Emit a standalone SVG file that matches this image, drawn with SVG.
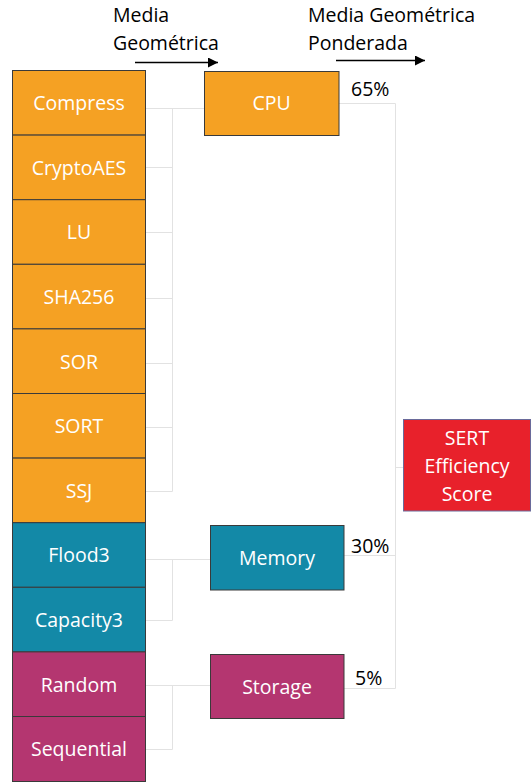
<svg xmlns="http://www.w3.org/2000/svg" width="531" height="782" viewBox="0 0 531 782">
  <style>
    text { font-family: "Open Sans", "Noto Sans", "DejaVu Sans", sans-serif; font-size: 19.5px; }
    .lbl { fill: #ffffff; text-anchor: middle; }
    .hdr { fill: #000000; }
    .box { stroke: #3a3a3a; stroke-width: 1; }
    .cpu { fill: #F5A123; }
    .mem { fill: #1389A7; }
    .sto { fill: #B43670; }
    .sert { fill: #E8212B; stroke: #6a6a9a; stroke-width: 1; }
    .wire { fill: none; stroke: #e2e2e2; stroke-width: 1; }
    .arrow { fill: none; stroke: #000000; stroke-width: 1.3; marker-end: url(#head); }
  </style>
  <defs>
    <marker id="head" viewBox="0 0 10 10" refX="10" refY="5" markerWidth="16" markerHeight="10" markerUnits="userSpaceOnUse" orient="auto">
      <path d="M0,0 L10,5 L0,10 Z" fill="#000000"/>
    </marker>
  </defs>

  <rect width="531" height="782" fill="#ffffff"/>

  <!-- column headers -->
  <g id="headers">
    <text class="hdr" x="113" y="22">Media</text>
    <text class="hdr" x="113" y="50">Geométrica</text>
    <path class="arrow" d="M135,62.5 H218"/>
    <text class="hdr" x="308" y="22">Media Geométrica</text>
    <text class="hdr" x="308" y="50">Ponderada</text>
    <path class="arrow" d="M336,60.5 H425"/>
  </g>

  <!-- connectors -->
  <g id="connectors">
    <path class="wire" d="M146,108.5 H204 M172.5,108.5 V491.5 M146,167.5 H172.5 M146,232.5 H172.5 M146,298.5 H172.5 M146,363.5 H172.5 M146,427.5 H172.5 M146,491.5 H172.5"/>
    <path class="wire" d="M146,559.5 H210 M172.5,559.5 V620.5 H146"/>
    <path class="wire" d="M146,685.5 H210 M172.5,685.5 V749.5 H146"/>
    <path class="wire" d="M339,103.5 H395.5 V688.5 M344,555.5 H395.5 M344,688.5 H395.5 M395.5,467.5 H403"/>
  </g>

  <!-- benchmark workloads -->
  <g id="compress"><rect class="box cpu" x="12.5" y="70.5" width="133" height="64.6"/><text class="lbl" x="79" y="110">Compress</text></g>
  <g id="cryptoaes"><rect class="box cpu" x="12.5" y="135.1" width="133" height="64.6"/><text class="lbl" x="79" y="174.5">CryptoAES</text></g>
  <g id="lu"><rect class="box cpu" x="12.5" y="199.7" width="133" height="64.6"/><text class="lbl" x="79" y="239">LU</text></g>
  <g id="sha256"><rect class="box cpu" x="12.5" y="264.3" width="133" height="64.6"/><text class="lbl" x="79" y="304">SHA256</text></g>
  <g id="sor"><rect class="box cpu" x="12.5" y="328.9" width="133" height="64.6"/><text class="lbl" x="79" y="368.5">SOR</text></g>
  <g id="sort"><rect class="box cpu" x="12.5" y="393.5" width="133" height="64.6"/><text class="lbl" x="79" y="433">SORT</text></g>
  <g id="ssj"><rect class="box cpu" x="12.5" y="458.1" width="133" height="64.6"/><text class="lbl" x="79" y="497.5">SSJ</text></g>
  <g id="flood3"><rect class="box mem" x="12.5" y="522.7" width="133" height="64.6"/><text class="lbl" x="79" y="562">Flood3</text></g>
  <g id="capacity3"><rect class="box mem" x="12.5" y="587.3" width="133" height="64.6"/><text class="lbl" x="79" y="627">Capacity3</text></g>
  <g id="random"><rect class="box sto" x="12.5" y="651.9" width="133" height="64.6"/><text class="lbl" x="79" y="691.5">Random</text></g>
  <g id="sequential"><rect class="box sto" x="12.5" y="716.5" width="133" height="65"/><text class="lbl" x="79" y="756">Sequential</text></g>

  <!-- category groups -->
  <g id="cpu"><rect class="box cpu" x="204.5" y="71.5" width="134.5" height="64"/><text class="lbl" x="271.5" y="110">CPU</text>
    <text class="hdr" x="351" y="96">65%</text></g>
  <g id="memory"><rect class="box mem" x="210.5" y="525.5" width="133.5" height="64.5"/><text class="lbl" x="277" y="565">Memory</text>
    <text class="hdr" x="351" y="553">30%</text></g>
  <g id="storage"><rect class="box sto" x="210.5" y="654.5" width="133.5" height="64"/><text class="lbl" x="277" y="693.5">Storage</text>
    <text class="hdr" x="355" y="685">5%</text></g>

  <!-- overall score -->
  <g id="sert-score"><rect class="sert" x="403.5" y="419.5" width="127" height="91.5"/>
    <text class="lbl" x="467" y="445">SERT</text>
    <text class="lbl" x="467" y="473">Efficiency</text>
    <text class="lbl" x="467" y="501">Score</text></g>
</svg>
